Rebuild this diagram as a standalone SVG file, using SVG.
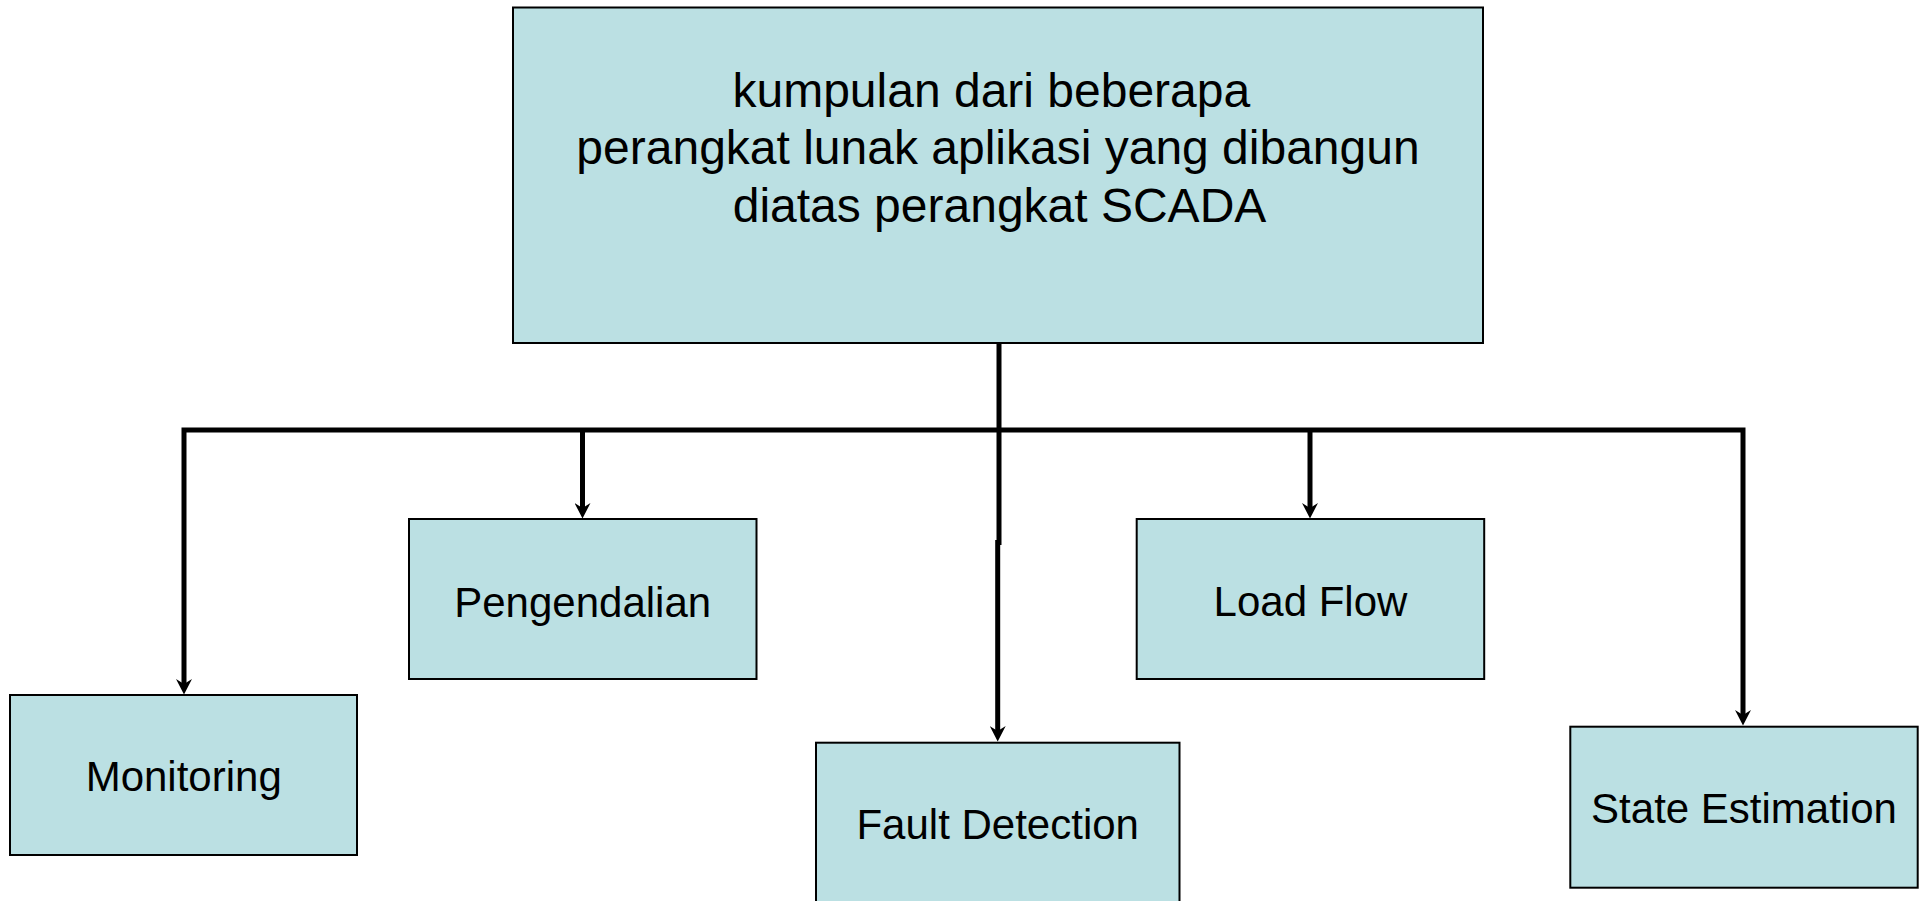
<svg xmlns="http://www.w3.org/2000/svg" width="1921" height="901" viewBox="0 0 1921 901">
<style>
.box{fill:#BBE0E3;stroke:#000;stroke-width:2}
.lbl{font-family:"Liberation Sans",Arial,sans-serif;font-size:42px;fill:#000;text-anchor:middle}
.big{font-family:"Liberation Sans",Arial,sans-serif;font-size:48px;fill:#000;text-anchor:middle}
.con{fill:none;stroke:#000;stroke-width:5;stroke-linejoin:miter}
</style>
<defs>
<marker id="arr" viewBox="0 0 16 16" markerWidth="16" markerHeight="16" refX="7" refY="8" orient="auto" markerUnits="userSpaceOnUse">
<path d="M15.5,8 L0,0 L5,8 L0,16 Z" fill="#000"/>
</marker>
</defs>
<rect x="0" y="0" width="1921" height="901" fill="#fff"/>
<g id="connectors">
<path class="con" d="M999 343 V430"/>
<path class="con" d="M999 430 H184 V686" marker-end="url(#arr)"/>
<path class="con" d="M999 430 H1743 V717" marker-end="url(#arr)"/>
<path class="con" d="M582.5 430 V510" marker-end="url(#arr)"/>
<path class="con" d="M1310 430 V510" marker-end="url(#arr)"/>
<path class="con" d="M999 430 V545"/>
<path class="con" d="M997.7 540 V733" marker-end="url(#arr)"/>
</g>
<g id="node-top">
<rect class="box" x="513" y="7.5" width="970" height="335.5"/>
<text class="big" x="998" y="107.3" xml:space="preserve">kumpulan dari beberapa </text>
<text class="big" x="998" y="164.3">perangkat lunak aplikasi yang dibangun</text>
<text class="big" x="999.5" y="222">diatas perangkat SCADA</text>
</g>
<g id="node-monitoring">
<rect class="box" x="10" y="695" width="347" height="160"/>
<text class="lbl" x="183.7" y="790.7">Monitoring</text>
</g>
<g id="node-pengendalian">
<rect class="box" x="409" y="519" width="347.5" height="160"/>
<text class="lbl" x="582.7" y="616.7">Pengendalian</text>
</g>
<g id="node-fault">
<rect class="box" x="816" y="742.7" width="363.5" height="170"/>
<text class="lbl" x="997.7" y="839">Fault Detection</text>
</g>
<g id="node-loadflow">
<rect class="box" x="1136.7" y="519" width="347.5" height="160"/>
<text class="lbl" x="1310.5" y="616">Load Flow</text>
</g>
<g id="node-state">
<rect class="box" x="1570.3" y="726.7" width="347.4" height="161"/>
<text class="lbl" x="1744" y="822.7">State Estimation</text>
</g>
</svg>
